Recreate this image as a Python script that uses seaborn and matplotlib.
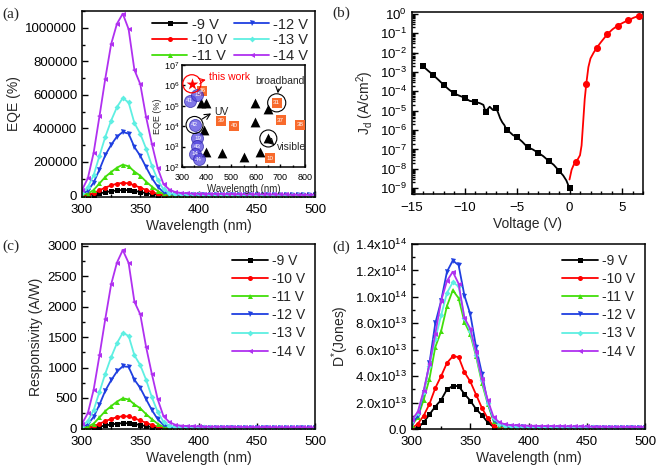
import matplotlib
matplotlib.use("Agg")
import pandas as pd
import matplotlib.pyplot as plt
import seaborn as sns
from matplotlib.ticker import MultipleLocator, FuncFormatter, LogLocator, NullFormatter

# ---------------- data ----------------
# wavelength grid of the spectra (nm), 5 nm step
wavelength = list(range(300, 505, 5))
biases = ["-9 V", "-10 V", "-11 V", "-12 V", "-13 V", "-14 V"]

# responsivity (A/W): 300..380 nm, then 385..500 nm tail
resp_9 = [0, 3, 12, 28, 48, 64, 78, 86, 84, 72, 56, 38, 22, 10, 3, 1, 0.5,
          0.4, 0.4, 0.4, 0.4, 0.4, 0.4, 0.4, 0.4, 0.3, 0.3, 0.3, 0.3, 0.3, 0.3, 0.3, 0.3,
          0.3, 0.3, 0.3, 0.3, 0.3, 0.3, 0.3, 0.3]
resp_10 = [1, 10, 35, 75, 120, 155, 185, 200, 196, 165, 130, 92, 56, 26, 8, 3, 1.5,
           1.2, 1.1, 1, 1, 1, 1, 1, 1, 0.9, 0.9, 0.9, 0.9, 0.9, 0.8, 0.8, 0.8,
           0.8, 0.8, 0.8, 0.7, 0.7, 0.7, 0.7, 0.7]
resp_11 = [5, 25, 80, 180, 285, 365, 440, 495, 475, 395, 330, 235, 150, 75, 25, 9, 5,
           4, 3.5, 3.2, 3, 3, 2.9, 2.8, 2.7, 2.6, 2.5, 2.5, 2.4, 2.3, 2.3, 2.2, 2.2,
           2.1, 2.1, 2, 2, 2, 1.9, 1.9, 1.8]
resp_12 = [20, 65, 190, 390, 620, 790, 935, 1020, 1010, 800, 665, 480, 300, 150, 55, 22, 12,
           9, 8, 7, 7, 6.5, 6.2, 6, 5.8, 5.6, 5.4, 5.2, 5, 4.9, 4.8, 4.7, 4.6,
           4.5, 4.4, 4.3, 4.2, 4.1, 4, 4, 3.9]
resp_13 = [35, 120, 300, 600, 900, 1170, 1400, 1570, 1520, 1200, 1040, 800, 510, 270, 105, 45, 27,
           22, 19, 17, 16, 15, 15, 14, 14, 13, 13, 12, 12, 12, 11, 11, 11,
           10, 10, 10, 10, 9, 9, 9, 9]
resp_14 = [77, 250, 635, 1200, 1800, 2365, 2725, 2930, 2720, 2080, 1875, 1340, 890, 477, 197, 104, 60,
           44, 38, 34, 32, 30, 29, 28, 27, 26, 25, 24, 23, 22, 22, 21, 20,
           20, 19, 19, 18, 18, 17, 17, 16]

# EQE in units of 10^3 %
eqe_9 = [0, 1.2, 4.8, 11, 18.6, 24.4, 29.3, 31.8, 30.6, 25.9, 19.8, 13.3, 7.6, 3.4, 1.0, 0.3, 0.2,
         0.13, 0.13, 0.12, 0.12, 0.12, 0.12, 0.12, 0.11, 0.11, 0.1, 0.1, 0.1, 0.1, 0.1, 0.1, 0.1,
         0.1, 0.09, 0.09, 0.09, 0.09, 0.09, 0.08, 0.08]
eqe_10 = [0.4, 4.1, 14, 29.5, 46.5, 59, 69.5, 74, 71.5, 59.3, 46, 32.1, 19.3, 8.8, 2.7, 1.0, 0.5,
          0.39, 0.35, 0.31, 0.31, 0.3, 0.3, 0.3, 0.3, 0.27, 0.26, 0.26, 0.26, 0.25, 0.22, 0.22, 0.22,
          0.22, 0.21, 0.21, 0.18, 0.18, 0.18, 0.18, 0.17]
eqe_11 = [2.1, 10.2, 32, 71, 110, 139, 165, 183, 173, 142, 117, 82, 52, 25.5, 8.4, 3.0, 1.6,
          1.3, 1.1, 1.0, 0.93, 0.92, 0.88, 0.84, 0.81, 0.77, 0.73, 0.72, 0.68, 0.65, 0.64, 0.61, 0.6,
          0.57, 0.56, 0.53, 0.52, 0.52, 0.49, 0.48, 0.45]
eqe_12 = [8.3, 26.4, 76, 154, 240, 301, 351, 378, 368, 288, 236, 168, 103, 51, 18.4, 7.3, 3.9,
          2.9, 2.5, 2.2, 2.2, 2.0, 1.9, 1.8, 1.7, 1.6, 1.6, 1.5, 1.4, 1.4, 1.3, 1.3, 1.3,
          1.2, 1.2, 1.1, 1.1, 1.1, 1.0, 1.0, 1.0]
eqe_13 = [14.5, 48.8, 120, 236, 349, 446, 526, 581, 554, 431, 368, 279, 176, 92, 35, 14.9, 8.8,
          7.1, 6.0, 5.3, 5.0, 4.6, 4.5, 4.2, 4.1, 3.8, 3.7, 3.4, 3.4, 3.3, 3.0, 3.0, 3.0,
          2.7, 2.6, 2.6, 2.6, 2.3, 2.3, 2.3, 2.2]
eqe_14 = [31.8, 101.7, 254, 472, 697, 902, 1024, 1084, 992, 748, 664, 468, 306, 162, 66, 34.4, 19.6,
          14.2, 12.1, 10.7, 9.9, 9.2, 8.8, 8.4, 8.0, 7.6, 7.2, 6.8, 6.5, 6.1, 6.1, 5.7, 5.4,
          5.3, 5.0, 5.0, 4.6, 4.6, 4.3, 4.3, 4.0]

# detectivity in units of 10^13 Jones
det_9 = [0.0, 0.1, 0.5, 1.1, 1.7, 2.2, 3.0, 3.25, 3.25, 2.65, 2.15, 1.5, 1.05, 0.5, 0.15, 0.03, 0.02,
         0.01, 0.01, 0.01, 0.01, 0.01, 0.01, 0.01, 0.01, 0.01, 0.01, 0.01, 0.01, 0.01, 0.01, 0.01, 0.01,
         0.01, 0.01, 0.01, 0.01, 0.01, 0.01, 0.01, 0.01]
det_10 = [0.05, 0.4, 1.0, 1.9, 3.1, 4.0, 5.0, 5.5, 5.45, 4.3, 3.6, 2.6, 1.6, 0.8, 0.2, 0.06, 0.04,
          0.03, 0.03, 0.03, 0.03, 0.03, 0.03, 0.03, 0.03, 0.02, 0.02, 0.02, 0.02, 0.02, 0.02, 0.02, 0.02,
          0.02, 0.02, 0.02, 0.02, 0.02, 0.02, 0.02, 0.02]
det_11 = [0.3, 0.9, 2.2, 3.8, 6.2, 7.4, 9.3, 10.5, 9.9, 8.1, 7.2, 5.5, 3.5, 1.9, 0.6, 0.25, 0.15,
          0.12, 0.1, 0.1, 0.1, 0.09, 0.09, 0.08, 0.08, 0.08, 0.07, 0.07, 0.07, 0.07, 0.06, 0.06, 0.06,
          0.06, 0.06, 0.05, 0.05, 0.05, 0.05, 0.05, 0.05]
det_12 = [0.4, 1.0, 2.7, 5.0, 8.0, 9.7, 11.9, 12.75, 12.4, 10.1, 8.7, 6.2, 4.2, 2.0, 0.7, 0.3, 0.2,
          0.15, 0.13, 0.12, 0.11, 0.1, 0.1, 0.1, 0.09, 0.09, 0.09, 0.08, 0.08, 0.08, 0.08, 0.07, 0.07,
          0.07, 0.07, 0.07, 0.06, 0.06, 0.06, 0.06, 0.06]
det_13 = [0.6, 1.2, 2.8, 4.8, 6.8, 8.6, 10.3, 11.1, 10.8, 8.4, 7.4, 5.6, 3.7, 2.0, 0.8, 0.4, 0.25,
          0.2, 0.18, 0.17, 0.16, 0.15, 0.15, 0.14, 0.14, 0.13, 0.13, 0.13, 0.12, 0.12, 0.12, 0.12, 0.11,
          0.11, 0.11, 0.11, 0.1, 0.1, 0.1, 0.1, 0.1]
det_14 = [0.7, 1.3, 2.9, 4.9, 7.2, 9.7, 11.2, 11.9, 11.0, 8.4, 7.6, 5.8, 3.8, 2.2, 0.9, 0.5, 0.35,
          0.3, 0.28, 0.26, 0.25, 0.24, 0.23, 0.22, 0.22, 0.21, 0.21, 0.2, 0.2, 0.19, 0.19, 0.18, 0.18,
          0.18, 0.17, 0.17, 0.17, 0.16, 0.16, 0.16, 0.15]

# dark current density (b): reverse (black) and forward (red)
v_rev = [-14, -13.5, -13, -12.5, -12, -11.5, -11, -10.5, -10, -9.5, -9, -8.5, -8.2, -8, -7.8,
         -7.6, -7.3, -7, -6.8, -6.6, -6.4, -6.2, -6, -5.7, -5.4, -5, -4.5, -4, -3.5, -3,
         -2.5, -2, -1.5, -1, -0.6, -0.3, 0]
j_rev = [2.1e-3, 1.2e-3, 7.1e-4, 4.0e-4, 2.2e-4, 1.26e-4, 7.8e-5, 6.0e-5, 4.7e-5, 3.2e-5, 2.9e-5,
         2.4e-5, 2.0e-5, 8.9e-6, 1.2e-5, 1.6e-5, 1.1e-5, 1.4e-5, 7.9e-6, 4.0e-6, 2.5e-6, 1.8e-6,
         1.0e-6, 7.9e-7, 5.6e-7, 4.3e-7, 2.5e-7, 1.3e-7, 1.0e-7, 6.8e-8, 4.5e-8, 2.6e-8, 1.6e-8,
         7.9e-9, 4.5e-9, 2.5e-9, 1.0e-9]
v_rev_pts = [-14, -13, -12, -11, -10, -9, -8, -7, -6, -5, -4, -3, -2, -1, 0]
j_rev_pts = [2.1e-3, 7.1e-4, 2.2e-4, 7.8e-5, 4.7e-5, 2.9e-5, 8.9e-6, 1.4e-5, 1.0e-6, 4.3e-7,
             1.3e-7, 6.8e-8, 2.6e-8, 7.9e-9, 1.0e-9]
v_fwd = [0, 0.2, 0.4, 0.6, 0.8, 1.0, 1.15, 1.3, 1.45, 1.6, 1.8, 2.0, 2.3, 2.6, 3.0, 3.6, 4.1,
         4.6, 5.1, 5.6, 6.1, 6.6]
j_fwd = [2.8e-9, 8.9e-9, 1.6e-8, 2.2e-8, 3.2e-8, 5.0e-8, 1.6e-7, 2.5e-6, 4.0e-5, 2.5e-4, 1.8e-3,
         5.0e-3, 1.0e-2, 1.8e-2, 3.5e-2, 8.9e-2, 0.16, 0.25, 0.35, 0.47, 0.63, 0.79]
v_fwd_pts = [0.6, 1.6, 2.6, 3.6, 4.6, 5.6, 6.6]
j_fwd_pts = [2.2e-8, 2.5e-4, 1.8e-2, 8.9e-2, 0.25, 0.47, 0.79]

# inset of (a): literature comparison
star_x, star_y = 340, 1.2e6
sq_x = [383, 685, 458, 512, 701, 780, 658]
sq_y = [5.5e5, 1.4e5, 1.8e4, 1.07e4, 2.0e4, 1.2e4, 270]
sq_lab = ["36", "31", "39", "40", "37", "38", "10"]
ci_x = [331, 363, 351, 363, 361, 354, 368]
ci_y = [1.8e5, 3.4e5, 1.15e4, 2.5e3, 1.07e3, 440, 240]
ci_lab = ["41", "15", "42", "19", "43", "14", "44"]
tri_x = [378, 398, 597, 651, 597, 390, 651, 397, 462, 550, 618]
tri_y = [1.3e5, 1.3e5, 1.4e5, 6.8e4, 1.66e4, 6.5e3, 2.5e3, 560, 470, 320, 560]

# ---------------- style ----------------
colors = ["black", "#ff0000", "#42de0a", "#1f3fe0", "#5eefe2", "#b030f0"]
markers = ["s", "o", "^", "v", "D", "<"]

spec = pd.DataFrame({
    "wavelength": wavelength * 6,
    "bias": [b for b in biases for _ in wavelength],
    "resp": resp_9 + resp_10 + resp_11 + resp_12 + resp_13 + resp_14,
    "eqe": eqe_9 + eqe_10 + eqe_11 + eqe_12 + eqe_13 + eqe_14,
    "det": det_9 + det_10 + det_11 + det_12 + det_13 + det_14,
})
spec["eqe"] = spec["eqe"] * 1e3
spec["det"] = spec["det"] * 1e13

sns.set_style("ticks")
plt.rcParams["font.family"] = ["Liberation Sans", "DejaVu Sans"]
plt.rcParams["mathtext.fontset"] = "custom"
plt.rcParams["mathtext.rm"] = "Liberation Sans"
plt.rcParams["mathtext.it"] = "Liberation Sans:italic"
plt.rcParams["mathtext.bf"] = "Liberation Sans:bold"

fig = plt.figure(figsize=(6.57, 4.72), dpi=100)
ax_a = fig.add_axes([82 / 657, 1 - 197 / 472, 233 / 657, 186 / 472])
ax_b = fig.add_axes([412 / 657, 1 - 194 / 472, 231 / 657, 182 / 472])
ax_c = fig.add_axes([82 / 657, 1 - 429 / 472, 233 / 657, 185 / 472])
ax_d = fig.add_axes([412 / 657, 1 - 429 / 472, 233 / 657, 185 / 472])


def style_axes(ax, size=9.5):
    ax.tick_params(which="both", direction="in", top=False, right=False,
                   labelsize=size, width=1, colors="black")
    ax.tick_params(which="major", length=4)
    ax.tick_params(which="minor", length=2)
    ax.tick_params(axis="x", pad=5)
    for s in ax.spines.values():
        s.set_linewidth(1.1)
        s.set_color("black")


# spectra panels (a), (c), (d)
for ax, col in [(ax_a, "eqe"), (ax_c, "resp"), (ax_d, "det")]:
    for lab, c, m in zip(biases, colors, markers):
        sub = spec[spec["bias"] == lab]
        sns.lineplot(data=sub, x="wavelength", y=col, ax=ax, color=c, marker=m,
                     markersize=3.6 if m != "D" else 3.0, markeredgewidth=0,
                     linewidth=1.3, label=lab)
    ax.set_xlim(300, 500)
    ax.xaxis.set_major_locator(MultipleLocator(50))
    ax.xaxis.set_minor_locator(MultipleLocator(25))
    ax.set_xlabel("Wavelength (nm)", fontsize=10, labelpad=2)
    style_axes(ax)

ax_a.set_ylim(-1e4, 1.1e6)
ax_a.yaxis.set_major_locator(MultipleLocator(200000))
ax_a.yaxis.set_minor_locator(MultipleLocator(100000))
ax_a.yaxis.set_major_formatter(FuncFormatter(lambda v, p: f"{v:.0f}"))
ax_a.set_ylabel("EQE (%)", fontsize=10, labelpad=3)
ax_a.legend(ncol=2, frameon=False, loc="upper right", fontsize=10.5, handlelength=2.4,
            labelspacing=0.12, columnspacing=0.5, handletextpad=0.3, borderaxespad=0.05)

ax_c.set_ylim(-10, 3030)
ax_c.yaxis.set_major_locator(MultipleLocator(500))
ax_c.yaxis.set_minor_locator(MultipleLocator(250))
ax_c.set_ylabel("Responsivity (A/W)", fontsize=10, labelpad=3)
ax_c.legend(frameon=False, loc="upper right", fontsize=10, handlelength=2.6,
            labelspacing=0.3, handletextpad=0.3, borderaxespad=0.3)


def sci_fmt(v, p):
    if abs(v) < 1:
        return "0.0"
    e = len(str(int(round(v)))) - 1
    return f"{v / 10 ** e:.1f}x10$^{{{e}}}$"


ax_d.set_ylim(0, 1.4e14)
ax_d.yaxis.set_major_locator(MultipleLocator(2e13))
ax_d.yaxis.set_minor_locator(MultipleLocator(1e13))
ax_d.yaxis.set_major_formatter(FuncFormatter(sci_fmt))
ax_d.set_ylabel("D$^{*}$(Jones)", fontsize=10, labelpad=3)
ax_d.legend(frameon=False, loc="upper right", fontsize=10, handlelength=2.6,
            labelspacing=0.3, handletextpad=0.3, borderaxespad=0.3)

# (b) dark current
sns.lineplot(x=v_rev, y=j_rev, ax=ax_b, color="black", linewidth=1.3)
sns.lineplot(x=v_fwd, y=j_fwd, ax=ax_b, color="#ff0000", linewidth=1.3)
sns.scatterplot(x=v_rev_pts, y=j_rev_pts, ax=ax_b, color="black", marker="s", s=22, linewidth=0, zorder=3)
sns.scatterplot(x=v_fwd_pts, y=j_fwd_pts, ax=ax_b, color="#ff0000", marker="o", s=26, linewidth=0, zorder=3)
ax_b.set_yscale("log")
ax_b.set_ylim(5e-10, 1.25)
ax_b.set_xlim(-15, 7)
ax_b.xaxis.set_major_locator(MultipleLocator(5))
ax_b.xaxis.set_minor_locator(MultipleLocator(1))
ax_b.yaxis.set_major_locator(LogLocator(base=10, numticks=20))
ax_b.yaxis.set_minor_locator(LogLocator(base=10, subs=range(2, 10), numticks=20))
ax_b.yaxis.set_minor_formatter(NullFormatter())
ax_b.set_xlabel("Voltage (V)", fontsize=10, labelpad=2)
ax_b.set_ylabel("J$_\\mathrm{d}$ (A/cm$^2$)", fontsize=10, labelpad=3)
style_axes(ax_b)
ax_b.tick_params(axis="x", pad=6)

# inset in (a)
ax_in = fig.add_axes([182 / 657, 1 - 167 / 472, 123 / 657, 102 / 472])
ax_in.set_yscale("log")
ax_in.set_ylim(1e2, 1e7)
ax_in.set_xlim(300, 800)
sns.scatterplot(x=tri_x, y=tri_y, ax=ax_in, marker="^", s=50, color="black", linewidth=0, zorder=3)
sns.scatterplot(x=sq_x, y=sq_y, ax=ax_in, marker="s", s=45, color="#f86a2c", linewidth=0, zorder=4)
for x, y, t in zip(sq_x, sq_y, sq_lab):
    ax_in.text(x, y, t, fontsize=4.5, color="white", ha="center", va="center", zorder=5)
sns.scatterplot(x=ci_x, y=ci_y, ax=ax_in, marker="o", s=75, color="#5548e0", alpha=0.75,
                edgecolor="#2c23a8", linewidth=0.6, zorder=4)
for x, y, t in zip(ci_x, ci_y, ci_lab):
    ax_in.text(x, y, t, fontsize=4.5, color="white", ha="center", va="center", zorder=5)
sns.scatterplot(x=[star_x], y=[star_y], ax=ax_in, marker="*", s=80, color="#ff0000", linewidth=0, zorder=5)
ax_in.scatter([star_x], [star_y], s=170, facecolors="none", edgecolors="#ff0000", linewidths=0.9, zorder=5)
ax_in.scatter([351, 651], [1.15e4, 2.5e3], s=150, facecolors="none", edgecolors="black",
              linewidths=0.8, zorder=6)
ax_in.scatter([685], [1.4e5], s=170, marker="o", facecolors="none", edgecolors="black",
              linewidths=0.8, zorder=6)
ax_in.text(410, 2.6e6, "this work", fontsize=7.5, color="#ff0000", va="center")
ax_in.annotate("", xy=(408, 2.0e6), xytext=(368, 1.6e6),
               arrowprops=dict(arrowstyle="->", color="#ff0000", lw=0.8))
ax_in.text(700, 1.7e6, "broadband", fontsize=7.5, ha="center", va="center")
ax_in.annotate("", xy=(688, 3.0e5), xytext=(693, 9e5),
               arrowprops=dict(arrowstyle="->", color="black", lw=0.8))
ax_in.text(430, 5.1e4, "UV", fontsize=7.5, va="center")
ax_in.annotate("", xy=(428, 5.0e4), xytext=(372, 1.9e4),
               arrowprops=dict(arrowstyle="->", color="black", lw=0.8))
ax_in.text(685, 9.3e2, "visible", fontsize=7.5, va="center")
ax_in.annotate("", xy=(683, 9.3e2), xytext=(664, 1.6e3),
               arrowprops=dict(arrowstyle="->", color="black", lw=0.8))
ax_in.xaxis.set_major_locator(MultipleLocator(100))
ax_in.xaxis.set_minor_locator(MultipleLocator(50))
ax_in.yaxis.set_major_locator(LogLocator(base=10, numticks=10))
ax_in.yaxis.set_minor_formatter(NullFormatter())
ax_in.set_xlabel("Wavelength (nm)", fontsize=7, labelpad=2)
ax_in.set_ylabel("EQE (%)", fontsize=6.5, labelpad=1)
style_axes(ax_in, size=6.5)
ax_in.tick_params(which="major", length=2.5, pad=2)
ax_in.tick_params(axis="x", pad=4)
ax_in.tick_params(which="minor", length=1.2)

# panel letters
for x, y, t in [(2, 14, "(a)"), (332, 13, "(b)"), (2, 246, "(c)"), (332, 247, "(d)")]:
    fig.text(x / 657, 1 - y / 472, t, fontsize=11, family="Liberation Serif", va="center")

fig.savefig("out.png", dpi=100)
plt.close("all")
